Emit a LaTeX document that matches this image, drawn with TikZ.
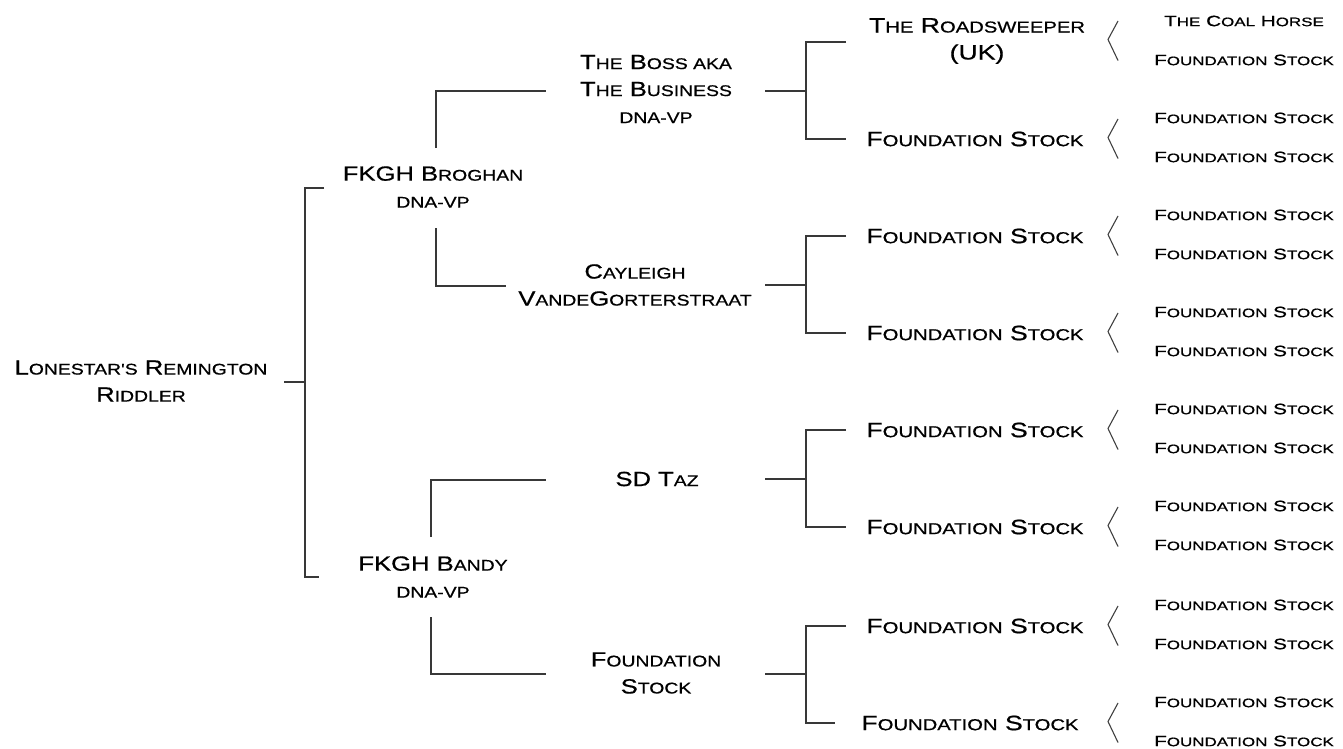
\documentclass[tikz,border=0pt]{standalone}
\usepackage{fontspec}
\newfontfamily\gfont[FakeStretch=1.25,FakeBold=0.7]{Liberation Sans}
\newfontfamily\gfontm[FakeStretch=1.28,FakeBold=0.7]{Liberation Sans}
\newfontfamily\gfontw[FakeStretch=1.38,FakeBold=0.8]{Liberation Sans}
\newcommand\smsz{15.5}
\newcommand\sm[1]{{\fontsize{\smsz}{27}\selectfont #1}}
\tikzset{
  big/.style={font=\gfont\fontsize{20.5}{27}\selectfont, align=center, inner sep=0pt, anchor=center, text=black},
  mid/.style={font=\gfontm\fontsize{20.8}{27}\selectfont\def\smsz{15.8}, align=center, inner sep=0pt, anchor=center, text=black},
  leaf/.style={font=\gfontw\fontsize{15}{27}\selectfont\def\smsz{12.3}, align=center, inner sep=0pt, anchor=center, text=black},
  conn/.style={line width=1.4pt, draw=black!78},
  brk/.style={line width=1.1pt, draw=black!75},
}
\begin{document}
\begin{tikzpicture}[x=1pt,y=-1pt]
\useasboundingbox (0,0) rectangle (1343,749);
% generation 0
\node[big] (root) at (141,381) {L\sm{ONESTAR'S} R\sm{EMINGTON}\\R\sm{IDDLER}};
% generation 1
\node[big] (b1) at (433,187) {FKGH B\sm{ROGHAN}\\\sm{DNA-VP}};
\node[big] (b2) at (433,577) {FKGH B\sm{ANDY}\\\sm{DNA-VP}};
% generation 2
\node[big] (g1) at (656,89) {T\sm{HE} B\sm{OSS AKA}\\T\sm{HE} B\sm{USINESS}\\\sm{DNA-VP}};
\node[big] (g2) at (635,285) {C\sm{AYLEIGH}\\V\sm{ANDE}G\sm{ORTERSTRAAT}};
\node[big] (g3) at (657,479) {SD T\sm{AZ}};
\node[big] (g4) at (656,673) {F\sm{OUNDATION}\\S\sm{TOCK}};
% generation 3
\node[mid] (c1) at (977,41) {T\sm{HE} R\sm{OADSWEEPER}\\(UK)};
\node[mid] (c2) at (975,139) {F\sm{OUNDATION} S\sm{TOCK}};
\node[mid] (c3) at (975,236) {F\sm{OUNDATION} S\sm{TOCK}};
\node[mid] (c4) at (975,333) {F\sm{OUNDATION} S\sm{TOCK}};
\node[mid] (c5) at (975,430) {F\sm{OUNDATION} S\sm{TOCK}};
\node[mid] (c6) at (975,527) {F\sm{OUNDATION} S\sm{TOCK}};
\node[mid] (c7) at (975,626) {F\sm{OUNDATION} S\sm{TOCK}};
\node[mid] (c8) at (970,723) {F\sm{OUNDATION} S\sm{TOCK}};
% generation 4
\node[leaf] (d1) at (1244,21) {T\sm{HE} C\sm{OAL} H\sm{ORSE}};
\node[leaf] (d2) at (1244,60) {F\sm{OUNDATION} S\sm{TOCK}};
\foreach \Y [count=\i from 2] in {139,236,333,430,527,626,723}{
  \pgfmathtruncatemacro\ka{2*\i-1}
  \pgfmathtruncatemacro\kb{2*\i}
  \node[leaf] (d\ka) at (1244,\Y-21) {F\sm{OUNDATION} S\sm{TOCK}};
  \node[leaf] (d\kb) at (1244,\Y+18) {F\sm{OUNDATION} S\sm{TOCK}};
}
% brackets between generation 3 and 4
\foreach \Y [count=\i] in {41,139,236,333,430,527,626,723}{
  \coordinate (k\i) at (1108,\Y-1.5);
  \draw[brk] ([shift={(10,-18.5)}]k\i) -- (k\i) -- ([shift={(10,21)}]k\i);
}
% root connector
\coordinate (r0) at (284,382);
\coordinate (r1) at (305,382);
\coordinate (rt) at (324,188);
\coordinate (rb) at (319,577);
\draw[conn] (r0) -- (r1);
\draw[conn] (rt) -| (r1) |- (rb);
% generation 1 connectors
\coordinate (b1a) at (436,148);
\coordinate (b1b) at (436,228);
\coordinate (g1l) at (546,91);
\coordinate (g2l) at (506,286);
\draw[conn] (b1a) |- (g1l);
\draw[conn] (b1b) |- (g2l);
\coordinate (b2a) at (431,537);
\coordinate (b2b) at (431,617);
\coordinate (g3l) at (546,480);
\coordinate (g4l) at (546,674);
\draw[conn] (b2a) |- (g3l);
\draw[conn] (b2b) |- (g4l);
% generation 2 connectors
\coordinate (g1r) at (765,91);   \coordinate (j1) at (806,91);
\coordinate (c1l) at (846,42);   \coordinate (c2l) at (846,139);
\coordinate (g2r) at (765,285);  \coordinate (j2) at (806,285);
\coordinate (c3l) at (846,236);  \coordinate (c4l) at (846,333);
\coordinate (g3r) at (765,479);  \coordinate (j3) at (806,479);
\coordinate (c5l) at (846,430);  \coordinate (c6l) at (846,527);
\coordinate (g4r) at (765,674);  \coordinate (j4) at (806,674);
\coordinate (c7l) at (846,626);  \coordinate (c8l) at (835,723);
\draw[conn] (g1r) -- (j1);  \draw[conn] (c1l) -| (j1) |- (c2l);
\draw[conn] (g2r) -- (j2);  \draw[conn] (c3l) -| (j2) |- (c4l);
\draw[conn] (g3r) -- (j3);  \draw[conn] (c5l) -| (j3) |- (c6l);
\draw[conn] (g4r) -- (j4);  \draw[conn] (c7l) -| (j4) |- (c8l);
\end{tikzpicture}
\end{document}
